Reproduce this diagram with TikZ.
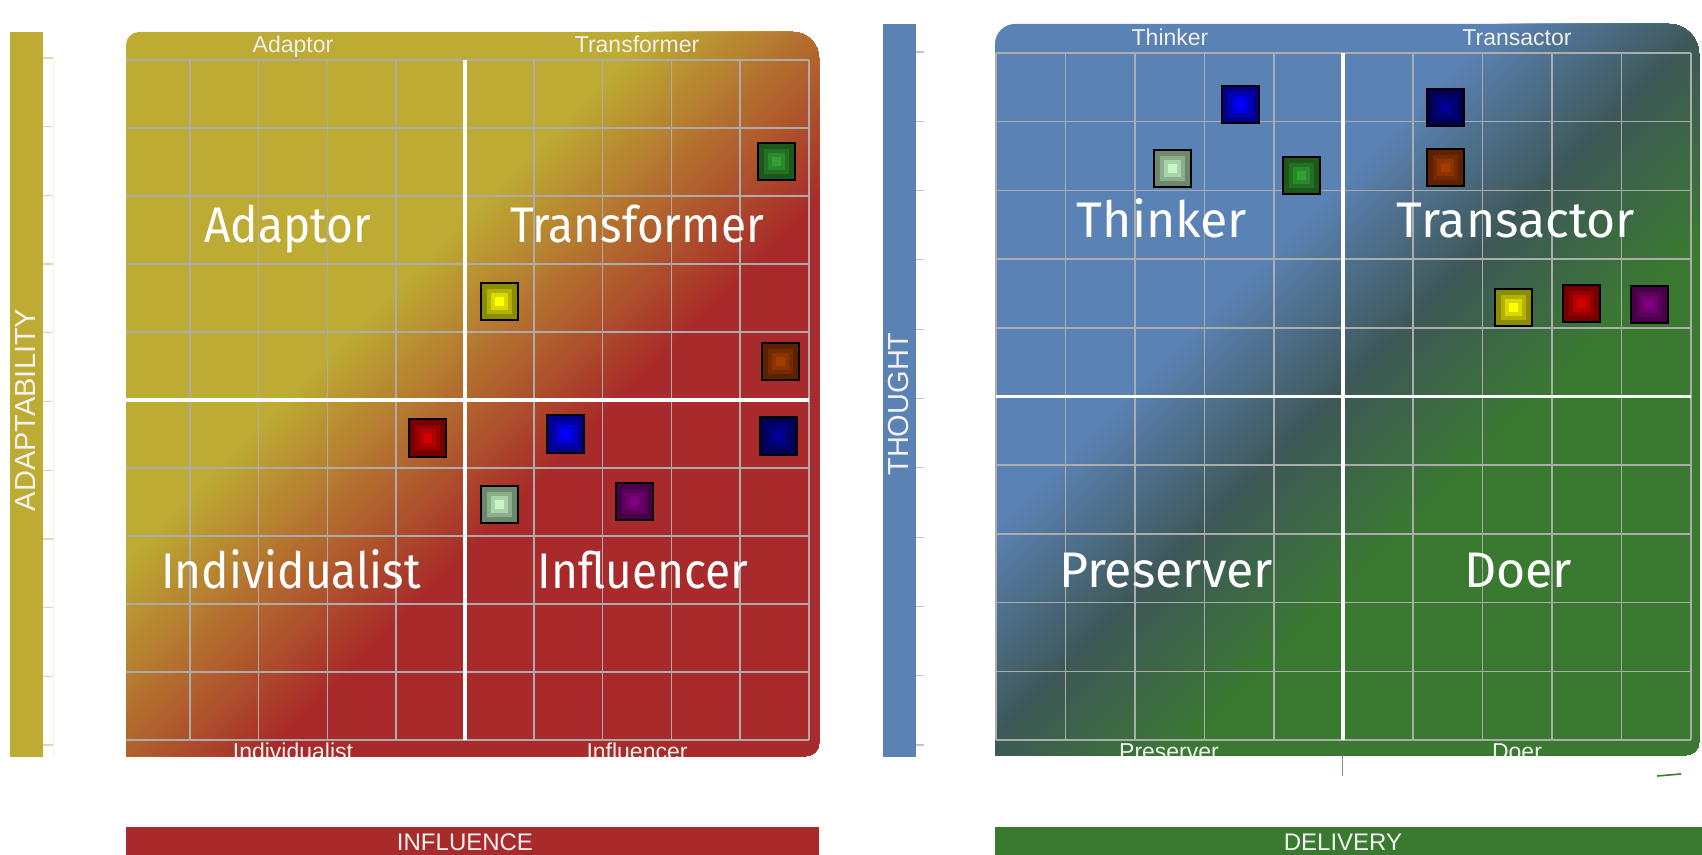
\documentclass[tikz,border=0pt]{standalone}
\usepackage{fontspec}
\setmainfont{Liberation Sans}
\newfontfamily\quadfont{Fira Sans}
\usepackage{graphicx}
\usepackage{xcolor}
\usepackage{tikz}

\definecolor{adaptolive}{RGB}{189, 171, 51}
\definecolor{influred}{RGB}{168, 42, 42}
\definecolor{thoughtblue}{RGB}{90, 130, 180}
\definecolor{slatemid}{RGB}{62, 88, 88}
\definecolor{delivgreen}{RGB}{58, 122, 48}
\definecolor{gridgrey}{RGB}{172, 172, 172}
% marker base colours
\definecolor{mkyellow}{RGB}{255, 255, 0}
\definecolor{mkred}{RGB}{210, 0, 0}
\definecolor{mkblue}{RGB}{0, 0, 255}
\definecolor{mknavy}{RGB}{0, 0, 150}
\definecolor{mkgreen}{RGB}{50, 160, 50}
\definecolor{mkbrown}{RGB}{165, 60, 0}
\definecolor{mkpurple}{RGB}{130, 0, 130}
\definecolor{mkpale}{RGB}{200, 248, 200}

% narrow quadrant name
\newcommand{\quadname}[1]{\scalebox{0.92}[1]{#1}}

% bevelled square marker: x, y, colour
\newcommand{\pinbox}[3]{
    \fill[black] (#1-19.5,#2-19.5) rectangle (#1+19.5,#2+19.5);
    \fill[#3!55!black] (#1-17.5,#2-17.5) rectangle (#1+17.5,#2+17.5);
    \fill[#3!70!black] (#1-12.5,#2-12.5) rectangle (#1+12.5,#2+12.5);
    \fill[#3!85!black] (#1-8.5,#2-8.5) rectangle (#1+8.5,#2+8.5);
    \fill[#3] (#1-4.5,#2-4.5) rectangle (#1+4.5,#2+4.5);
}

\begin{document}
\begin{tikzpicture}[x=0.5pt, y=-0.5pt,
    gridline/.style={gridgrey, line width=0.75pt},
    axisline/.style={white, line width=1.6pt},
    quadlabel/.style={text=white, font=\quadfont\fontsize{25}{25}\selectfont, anchor=base, inner sep=0pt},
    cornerlabel/.style={text=white!94!black, font=\fontsize{11.5}{12}\selectfont, anchor=base, inner sep=0pt},
    barlabel/.style={text=white!95!black, font=\fontsize{12}{12}\selectfont, anchor=base, inner sep=0pt},
    sidelabel/.style={text=white!95!black, font=\fontsize{14.5}{15}\selectfont, rotate=90, inner sep=0pt}]
    \useasboundingbox[fill=white] (0,0) rectangle (1702,855);

    % ---------------- Influence / Adaptability panel ----------------
    \fill[adaptolive] (10,32) rectangle (43,757);
    \node[sidelabel] (adaptaxis) at (26,410) {ADAPTABILITY};
    \draw[adaptolive!15, line width=0.5pt] (53,58) -- (53,757);
    \foreach \j in {0,...,10} {
        \draw[adaptolive!45, line width=0.6pt] (43,58+68.7*\j) -- (53,58+68.7*\j);
    }

    \begin{scope}
        \clip (126,756) -- (126,45) arc (180:270:13) -- (793,32) arc (270:360:26)
              -- (819,743) arc (0:90:13) -- cycle;
        \fill[adaptolive] (100,0) rectangle (850,800);
        % olive to red along the diagonal
        \foreach \k in {0,...,68} {
            \pgfmathtruncatemacro{\mix}{\k*100/68}
            \pgfmathsetmacro{\tpos}{680+5*\k}
            \fill[influred!\mix!adaptolive] (\tpos+100,-100) -- (3000,-100) -- (3000,900) -- (\tpos-900,900) -- cycle;
        }
        % grid
        \foreach \i in {1,...,10} {
            \draw[gridline] (121+68.8*\i,60) -- (121+68.8*\i,740);
        }
        \foreach \j in {0,...,10} {
            \draw[gridline] (126,60+68*\j) -- (809,60+68*\j);
        }
        \draw[axisline] (465,60) -- (465,740);
        \draw[axisline] (126,400) -- (809,400);

        % quadrant names
        \node[cornerlabel] (adaptorTop) at (293,53) {Adaptor};
        \node[cornerlabel] (transformerTop) at (637,53) {Transformer};
        \node[cornerlabel] (individualistBot) at (293,759) {Individualist};
        \node[cornerlabel] (influencerBot) at (637,759) {Influencer};
        \node[quadlabel] (adaptorBig) at (288,243) {\quadname{Adaptor}};
        \node[quadlabel] (transformerBig) at (637,243) {\quadname{Transformer}};
        \node[quadlabel] (individualistBig) at (291,588) {\quadname{Individualist}};
        \node[quadlabel] (influencerBig) at (643,588) {\quadname{Influencer}};

        % team markers
        \pinbox{776}{162}{mkgreen}
        \pinbox{499}{302}{mkyellow}
        \pinbox{780}{362}{mkbrown}
        \pinbox{427}{438}{mkred}
        \pinbox{565}{434}{mkblue}
        \pinbox{778}{436}{mknavy}
        \pinbox{499}{504}{mkpale}
        \pinbox{634}{501}{mkpurple}
    \end{scope}

    \fill[influred] (126,827) rectangle (819,855);
    \node[barlabel] (influaxis) at (465,850) {INFLUENCE};

    % ---------------- Delivery / Thought panel ----------------
    \fill[thoughtblue] (883,24) rectangle (916,757);
    \node[sidelabel] (thoughtaxis) at (899,404) {THOUGHT};
    \foreach \j in {0,...,10} {
        \draw[thoughtblue!45, line width=0.6pt] (916,52+69.3*\j) -- (924,52+69.3*\j);
    }

    \begin{scope}
        \clip (995,755) -- (995,44) arc (180:270:20) -- (1669,24) arc (270:360:30)
              -- (1699,742) arc (0:90:13) -- cycle;
        \fill[thoughtblue] (950,0) rectangle (1702,800);
        % blue to slate to green along the diagonal
        \foreach \k in {0,...,42} {
            \pgfmathtruncatemacro{\mix}{\k*100/42}
            \pgfmathsetmacro{\tpos}{1520+5*\k}
            \fill[slatemid!\mix!thoughtblue] (\tpos+100,-100) -- (3000,-100) -- (3000,900) -- (\tpos-900,900) -- cycle;
        }
        \foreach \k in {0,...,42} {
            \pgfmathtruncatemacro{\mix}{\k*100/42}
            \pgfmathsetmacro{\tpos}{1730+5*\k}
            \fill[delivgreen!\mix!slatemid] (\tpos+100,-100) -- (3000,-100) -- (3000,900) -- (\tpos-900,900) -- cycle;
        }
        % grid
        \foreach \i in {0,...,10} {
            \draw[gridline] (996+69.5*\i,53) -- (996+69.5*\i,740);
        }
        \foreach \j in {0,...,10} {
            \draw[gridline] (996,53+68.7*\j) -- (1691,53+68.7*\j);
        }
        \draw[axisline] (1343,53) -- (1343,740);
        \draw[axisline] (996,396.5) -- (1691,396.5);

        % quadrant names
        \node[cornerlabel] (thinkerTop) at (1170,46) {Thinker};
        \node[cornerlabel] (transactorTop) at (1517,46) {Transactor};
        \node[cornerlabel] (preserverBot) at (1169,759) {Preserver};
        \node[cornerlabel] (doerBot) at (1517,759) {Doer};
        \node[quadlabel] (thinkerBig) at (1162,238) {Thinker};
        \node[quadlabel] (transactorBig) at (1516,238) {Transactor};
        \node[quadlabel] (preserverBig) at (1166,587) {Preserver};
        \node[quadlabel] (doerBig) at (1518,587) {Doer};

        % team markers
        \pinbox{1240}{105}{mkblue}
        \pinbox{1172}{169}{mkpale}
        \pinbox{1301}{176}{mkgreen}
        \pinbox{1445}{108}{mknavy}
        \pinbox{1445}{168}{mkbrown}
        \pinbox{1513}{308}{mkyellow}
        \pinbox{1581}{304}{mkred}
        \pinbox{1649}{305}{mkpurple}
    \end{scope}

    \draw[gridgrey!50!delivgreen, line width=0.4pt] (1342,755) -- (1342,776);
    \draw[delivgreen, line width=0.8pt] (1657,776) -- (1681,774);

    \fill[delivgreen] (995,827) rectangle (1702,855);
    \node[barlabel] (delivaxis) at (1343,850) {DELIVERY};
\end{tikzpicture}
\end{document}
